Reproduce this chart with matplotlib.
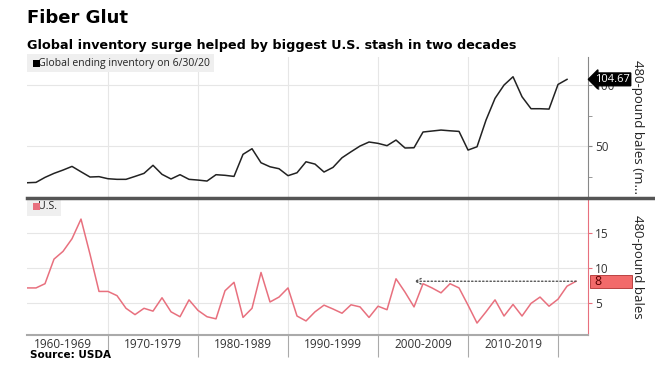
import matplotlib.pyplot as plt
import matplotlib.patches as mpatches
import matplotlib.transforms as mtransforms
from matplotlib.lines import Line2D

# global ending inventory (million 480-lb bales), 1961-2021
global_years = list(range(1961, 2022))
global_inv = [19.9, 20.2, 24.3, 27.6, 30.3, 33.3, 28.9, 24.6, 24.9, 23.2,
              22.7, 22.7, 25.1, 27.6, 34.2, 26.8, 23.0, 26.5, 22.7, 22.1,
              21.3, 26.5, 26.0, 25.1, 43.2, 47.8, 36.3, 33.0, 31.4, 25.7,
              28.1, 37.1, 35.2, 28.7, 32.5, 40.4, 45.3, 50.0, 53.3, 52.2,
              50.3, 54.9, 48.4, 48.6, 61.5, 62.3, 63.1, 62.5, 62.0, 46.7,
              49.4, 71.3, 89.1, 100.0, 106.8, 90.4, 80.6, 80.6, 80.3, 100.5,
              104.67]

# U.S. ending stocks (million 480-lb bales), 1961-2022
us_years = list(range(1961, 2023))
us_inv = [7.2, 7.2, 7.8, 11.3, 12.4, 14.2, 17.0, 12.0, 6.7, 6.7,
          6.1, 4.3, 3.4, 4.3, 3.9, 5.8, 3.8, 3.1, 5.5, 4.0,
          3.1, 2.8, 6.8, 8.0, 3.0, 4.3, 9.4, 5.2, 5.9, 7.2,
          3.2, 2.5, 3.8, 4.75, 4.2, 3.6, 4.8, 4.5, 3.0, 4.6,
          4.1, 8.5, 6.6, 4.5, 7.8, 7.2, 6.5, 7.8, 7.2, 4.75,
          2.2, 3.8, 5.5, 3.2, 4.85, 3.2, 5.0, 5.9, 4.6, 5.6,
          7.45, 8.15]
us_last_label = "8"
arrow_to_year = 2004

decades = [1960, 1970, 1980, 1990, 2000, 2010, 2020]
decade_labels = ["1960-1969", "1970-1979", "1980-1989", "1990-1999",
                 "2000-2009", "2010-2019"]

plt.rcParams['font.family'] = ['DejaVu Sans']

fig = plt.figure(figsize=(6.55, 3.84), dpi=100)
L, W = 27 / 655, 561 / 655
ax1 = fig.add_axes([L, 186 / 384, W, 141 / 384])
ax2 = fig.add_axes([L, 49 / 384, W, 137 / 384])

grid_c = '#e6e6e6'
tick_font = ['Open Sans', 'DejaVu Sans']

for ax in (ax1, ax2):
    ax.set_xlim(1961, 2023.33)
    for s in ('top', 'left'):
        ax.spines[s].set_visible(False)
    ax.yaxis.tick_right()
    ax.set_xticks(decades[1:])
    ax.xaxis.grid(True, color=grid_c, lw=0.8)
    ax.yaxis.grid(True, color=grid_c, lw=0.8)
    ax.set_axisbelow(True)

# top panel
ax1.plot(global_years, global_inv, color='#222222', lw=1.1)
ax1.set_ylim(7.4, 123)
ax1.set_yticks([50, 100])
ax1.set_yticks([25, 75], minor=True)
ax1.set_yticklabels(['50', '100'], fontsize=8.5, color='#333333', family=tick_font)
ax1.tick_params(axis='y', which='both', length=3, color='#888888', pad=2)
ax1.tick_params(axis='x', length=0, labelbottom=False)
ax1.spines['right'].set_color('#888888')
ax1.spines['bottom'].set_visible(False)
ax1.text(1.089, 0.5, '480-pound bales (m...', transform=ax1.transAxes,
         rotation=270, fontsize=9.5, va='center', ha='center',
         color='#222222', family=tick_font)

# value tag on the right
ax1.annotate(f'{global_inv[-1]:.2f}', xy=(1.0, global_inv[-1]),
             xycoords=mtransforms.blended_transform_factory(ax1.transAxes, ax1.transData),
             xytext=(5, 0), textcoords='offset points', va='center', ha='left',
             fontsize=8, color='white', family=tick_font, zorder=10,
             bbox=dict(boxstyle='larrow,pad=0.08', fc='black', ec='black'))

# bottom panel
us_c = '#e8707e'
ax2.plot(us_years, us_inv, color=us_c, lw=1.1)
ax2.set_ylim(0.5, 19.9)
ax2.set_yticks([5, 10, 15])
ax2.set_yticks([20], minor=True)
ax2.set_yticklabels(['5', '10', '15'], fontsize=8.5, color='#333333', family=tick_font)
ax2.tick_params(axis='y', which='both', length=3, color=us_c, pad=2)
ax2.spines['right'].set_color(us_c)
ax2.spines['bottom'].set_color('#aaaaaa')
ax2.spines['bottom'].set_linewidth(1.5)
ax2.text(1.089, 0.5, '480-pound bales', transform=ax2.transAxes,
         rotation=270, fontsize=9.5, va='center', ha='center',
         color='#222222', family=tick_font)

# decade ticks and labels
ax2.tick_params(axis='x', which='major', length=16, color='#aaaaaa', labelbottom=False)
ax2.set_xticks([d + 5 for d in decades[:-1]], minor=True)
ax2.set_xticklabels(decade_labels, minor=True, fontsize=8.5, color='#333333',
                    family=tick_font)
ax2.tick_params(axis='x', which='minor', length=0, pad=2)

# dotted arrow back to previous high
ax2.annotate('', xy=(arrow_to_year, us_inv[-1]), xytext=(us_years[-1], us_inv[-1]),
             arrowprops=dict(arrowstyle='->', linestyle=':', color='#555555', lw=1,
                             shrinkA=0, shrinkB=0, mutation_scale=10))

# red tag for last U.S. value
bt = mtransforms.blended_transform_factory(ax2.transAxes, ax2.transData)
ax2.add_patch(mpatches.Rectangle((1.004, us_inv[-1] - 0.95), 0.075, 1.9,
                                 transform=bt, clip_on=False, fc='#f26a6a',
                                 ec='#b03030', lw=0.6))
ax2.text(1.012, us_inv[-1], us_last_label, transform=bt, va='center', ha='left',
         fontsize=9, color='#5a0000', family=tick_font)

# thick divider between panels
fig.add_artist(Line2D([L, 1.0], [186 / 384, 186 / 384], transform=fig.transFigure,
                      color='#555555', lw=2.5))

# legends
ax1.text(0.006, 0.955, '   Global ending inventory on 6/30/20', transform=ax1.transAxes,
         fontsize=7.5, color='#222222', va='center', ha='left', family=tick_font,
         bbox=dict(boxstyle='square,pad=0.35', fc='#efefef', ec='none'))
ax1.add_patch(mpatches.Rectangle((0.011, 0.93), 0.012, 0.05, transform=ax1.transAxes,
                                 fc='black', ec='none', clip_on=False, zorder=6))
ax2.text(0.006, 0.935, '   U.S.', transform=ax2.transAxes,
         fontsize=7.5, color='#222222', va='center', ha='left', family=tick_font,
         bbox=dict(boxstyle='square,pad=0.35', fc='#efefef', ec='none'))
ax2.add_patch(mpatches.Rectangle((0.011, 0.909), 0.012, 0.052, transform=ax2.transAxes,
                                 fc=us_c, ec='none', clip_on=False, zorder=6))

# titles
fig.text(27 / 655, 1 - 18 / 384, 'Fiber Glut', fontsize=13, fontweight='bold',
         va='center', ha='left', color='black')
fig.text(27 / 655, 1 - 45 / 384,
         'Global inventory surge helped by biggest U.S. stash in two decades',
         fontsize=9.2, fontweight='bold', va='center', ha='left', color='black')
fig.text(30 / 655, 1 - 355 / 384, 'Source: USDA', fontsize=7.5, fontweight='bold',
         va='center', ha='left', color='black')

fig.savefig('out.png', dpi=100)
